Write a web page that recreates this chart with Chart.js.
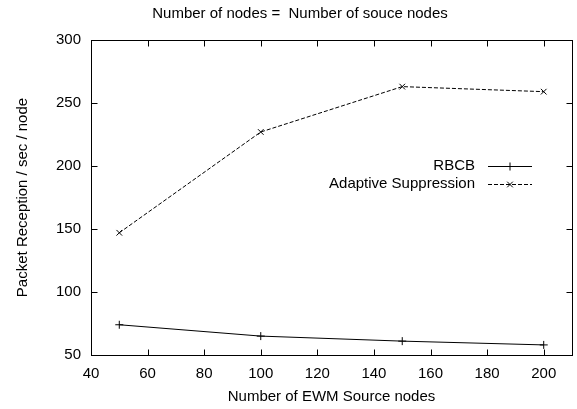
<!DOCTYPE html>
<html>
<head>
<meta charset="utf-8">
<script src="https://cdn.jsdelivr.net/npm/chart.js@4.4.1/dist/chart.umd.min.js"></script>
<style>
  body { margin: 0; background: #fff; }
  canvas { display: block; }
</style>
</head>
<body>
<canvas id="nodesChart" width="577" height="409"></canvas>
<script>
const sourceNodes = [50, 100, 150, 200];
const rbcb = [74, 65, 61, 58];
const adaptive = [147, 227, 263, 259];
const xTickValues = [40, 60, 80, 100, 120, 140, 160, 180, 200];
const yTickValues = [50, 100, 150, 200, 250, 300];

const chartTitle = "Number of nodes =  Number of souce nodes";
const xTitle = "Number of EWM Source nodes";
const yTitle = "Packet Reception / sec / node";

const FONT = "15px 'Liberation Sans', Arial, sans-serif";

function points(values) {
  return sourceNodes.map((x, i) => ({ x: x, y: values[i] }));
}

// gnuplot-like frame: box border, inward ticks on all four sides, titles and key
const framePlugin = {
  id: "frame",
  afterDraw(chart) {
    const ctx = chart.ctx;
    const a = chart.chartArea;
    const xs = chart.scales.x;
    const ys = chart.scales.y;
    const L = Math.round(a.left) + 0.5, R = Math.round(a.right) + 0.5;
    const T = Math.round(a.top) + 0.5, B = Math.round(a.bottom) + 0.5;
    const tick = 6;

    ctx.save();
    ctx.strokeStyle = "#000";
    ctx.lineWidth = 1;
    ctx.setLineDash([]);
    ctx.strokeRect(L, T, R - L, B - T);

    ctx.beginPath();
    xs.ticks.forEach((t) => {
      const px = Math.round(xs.getPixelForValue(t.value)) + 0.5;
      ctx.moveTo(px, B); ctx.lineTo(px, B - tick);
      ctx.moveTo(px, T); ctx.lineTo(px, T + tick);
    });
    ys.ticks.forEach((t) => {
      const py = Math.round(ys.getPixelForValue(t.value)) + 0.5;
      ctx.moveTo(L, py); ctx.lineTo(L + tick, py);
      ctx.moveTo(R, py); ctx.lineTo(R - tick, py);
    });
    ctx.stroke();

    ctx.fillStyle = "#000";
    ctx.font = FONT;
    ctx.textBaseline = "middle";
    ctx.textAlign = "center";
    ctx.fillText(chartTitle, 300, 14);
    ctx.fillText(xTitle, (a.left + a.right) / 2, 397);

    ctx.save();
    ctx.translate(23, (a.top + a.bottom) / 2);
    ctx.rotate(-Math.PI / 2);
    ctx.fillText(yTitle, 0, 0);
    ctx.restore();

    // key
    chart.data.datasets.forEach((ds, i) => {
      const ky = 166 + i * 17.5;
      const textRight = a.right - 97;
      ctx.textAlign = "right";
      ctx.fillText(ds.label, textRight, ky);
      const x0 = textRight + 13, x1 = textRight + 57;
      ctx.beginPath();
      ctx.setLineDash(ds.borderDash || []);
      ctx.moveTo(x0, Math.round(ky) + 0.5);
      ctx.lineTo(x1, Math.round(ky) + 0.5);
      ctx.stroke();
      ctx.setLineDash([]);
      Chart.helpers.drawPoint(ctx, {
        pointStyle: ds.pointStyle,
        radius: ds.pointRadius,
        borderWidth: 1
      }, (x0 + x1) / 2, Math.round(ky) + 0.5);
    });
    ctx.restore();
  }
};

new Chart(document.getElementById("nodesChart").getContext("2d"), {
  type: "line",
  data: {
    datasets: [
      {
        label: "RBCB",
        data: points(rbcb),
        borderColor: "#000",
        backgroundColor: "#000",
        borderWidth: 1,
        pointStyle: "cross",
        pointRadius: 4,
        pointBorderWidth: 1,
        tension: 0,
      },
      {
        label: "Adaptive Suppression",
        data: points(adaptive),
        borderColor: "#000",
        backgroundColor: "#000",
        borderWidth: 1,
        borderDash: [4, 2],
        pointStyle: "crossRot",
        pointRadius: 4,
        pointBorderWidth: 1,
        tension: 0,
      },
    ],
  },
  options: {
    responsive: false,
    animation: false,
    devicePixelRatio: 1,
    layout: { padding: { top: 40, right: 5, left: 0, bottom: 0 } },
    plugins: {
      legend: { display: false },
      title: { display: false },
      tooltip: { enabled: false },
    },
    scales: {
      x: {
        type: "linear",
        min: 40,
        max: 210,
        grid: { display: false, drawTicks: false },
        border: { display: false },
        afterBuildTicks: (scale) => {
          scale.ticks = xTickValues.map((v) => ({ value: v }));
        },
        afterFit: (scale) => { scale.height = 54; },
        ticks: {
          padding: 10,
          color: "#000",
          maxRotation: 0,
          autoSkip: false,
          font: { family: "'Liberation Sans', Arial, sans-serif", size: 15 },
        },
      },
      y: {
        type: "linear",
        min: 50,
        max: 300,
        grid: { display: false, drawTicks: false },
        border: { display: false },
        afterBuildTicks: (scale) => {
          scale.ticks = yTickValues.map((v) => ({ value: v }));
        },
        afterFit: (scale) => { scale.width = 91; },
        ticks: {
          padding: 10,
          color: "#000",
          font: { family: "'Liberation Sans', Arial, sans-serif", size: 15 },
        },
      },
    },
  },
  plugins: [framePlugin],
});
</script>
</body>
</html>
